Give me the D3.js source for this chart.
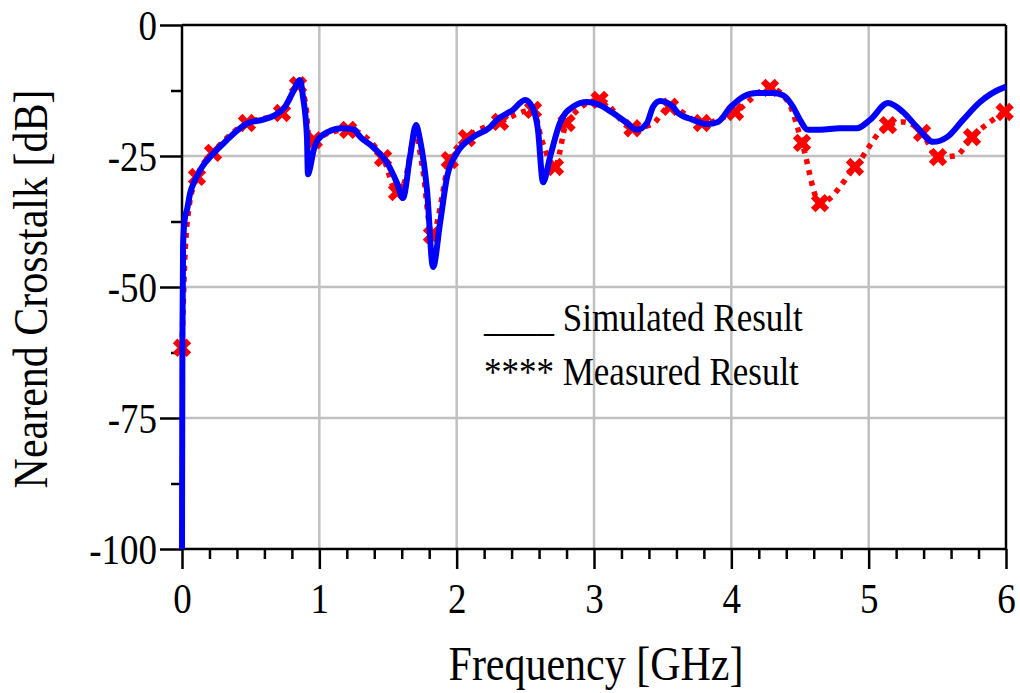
<!DOCTYPE html>
<html><head><meta charset="utf-8">
<script src="https://cdn.jsdelivr.net/npm/d3@7"></script>
<style>
html,body{margin:0;padding:0;background:#fff;}
svg{display:block;font-family:"Liberation Serif","Times New Roman",serif;}
</style></head>
<body>
<svg id="chart" width="1020" height="693"></svg>
<script>
// ---- Data ----
const xTicks = [0, 1, 2, 3, 4, 5, 6];
const yTicks = [0, -25, -50, -75, -100];
const xTickLabels = ["0", "1", "2", "3", "4", "5", "6"];
const yTickLabels = ["0", "-25", "-50", "-75", "-100"];

// Simulated result (GHz, dB)
const simFreq = [0, 0.003, 0.008, 0.02, 0.036, 0.06, 0.095, 0.146, 0.218, 0.313, 0.408, 0.48, 0.583, 0.677, 0.75, 0.808, 0.859, 0.881, 0.91, 0.917, 0.935, 0.954, 0.99, 1.063, 1.165, 1.26,
  1.274, 1.391, 1.493, 1.566, 1.609, 1.66, 1.704, 1.733, 1.784, 1.828, 1.879, 1.93, 2.002, 2.119, 2.243,
  2.294, 2.41, 2.498, 2.549, 2.592, 2.629, 2.68, 2.752, 2.847, 2.949, 3.044, 3.138, 3.24, 3.313, 3.386, 3.43, 3.481, 3.575,
  3.604, 3.721, 3.823, 3.903, 3.99, 4.085, 4.187, 4.303, 4.376, 4.449, 4.5, 4.558, 4.646, 4.79,
  4.915, 5.01, 5.141, 5.25, 5.352, 5.469, 5.571, 5.687, 5.811, 5.978, 6.0];
const simDb = [-100, -60, -42, -37, -35.3, -32, -29.6, -27.1, -24.8, -22.3, -20.0, -18.7, -18.1, -17.2, -15.6, -12.8, -10.5, -13.7, -21.4, -28.5, -27, -24.4, -21.9, -20.4, -19.7, -20.0,
  -20.6, -23.3, -26.3, -30.2, -33.0, -25.2, -19.1, -21.9, -31.5, -46.2, -37.8, -29.0, -24.4, -21.4, -19.5,
  -18.1, -16.2, -14.3, -15.6, -20.0, -30.0, -25.2, -18.7, -15.6, -14.7, -15.3, -16.8, -18.7, -20.0, -18.7, -15.6, -14.5, -15.6,
  -16.6, -18.1, -18.9, -18.5, -15.8, -13.7, -13.0, -13.0, -13.4, -15.6, -18.1, -20.0, -20.0, -19.7,
  -19.7, -18.1, -14.9, -16.6, -19.5, -22.3, -21.4, -18.1, -14.7, -12.0, -11.8];

// Measured result: dotted curve points
const measFreq = [0, 0.02, 0.05, 0.109, 0.226, 0.35, 0.473, 0.6, 0.728, 0.845, 0.9, 0.93, 0.96, 1.21, 1.464, 1.566, 1.62, 1.7, 1.75, 1.82, 1.95, 2.075, 2.316, 2.556, 2.62, 2.716, 2.8, 3.04, 3.28, 3.42, 3.553, 3.786, 4.027, 4.282, 4.42, 4.515, 4.646, 4.9, 5.141, 5.25, 5.389, 5.505, 5.63, 5.753, 5.99];
const measDb = [-61.6, -45, -35, -29, -24.4, -21, -18.7, -17.8, -16.8, -11.5, -15, -23, -22, -20.0, -25.4, -31.9, -30, -21, -27, -40.1, -25.8, -21.6, -18.5, -16.2, -22, -27.1, -18.7, -14.3, -19.7, -19, -15.6, -18.7, -16.6, -12.0, -15, -22.5, -34.0, -27.1, -19.1, -18.5, -20.6, -25.2, -25, -21.4, -16.6];
// Measured sample markers
const markFreq = [0, 0.109, 0.226, 0.473, 0.728, 0.845, 0.96, 1.21, 1.464, 1.566, 1.82, 1.95, 2.075, 2.316, 2.556, 2.716, 2.8, 3.04, 3.28, 3.553, 3.786, 4.027, 4.282, 4.515, 4.646, 4.9, 5.141, 5.389, 5.505, 5.753, 5.99];
const markDb = [-61.6, -29, -24.4, -18.7, -16.8, -11.5, -22, -20.0, -25.4, -31.9, -40.1, -25.8, -21.6, -18.5, -16.2, -27.1, -18.7, -14.3, -19.7, -15.6, -18.7, -16.6, -12.0, -22.5, -34.0, -27.1, -19.1, -20.6, -25.2, -21.4, -16.6];

const legendLabels = ["____ Simulated Result", "**** Measured Result"];
const xTitle = "Frequency [GHz]";
const yTitle = "Nearend Crosstalk [dB]";

// ---- Chart ----
const svg = d3.select("#chart");
const L = 182, R = 1006, T = 25, B = 549;
const SY = 1.16; // vertical text stretch
const x = d3.scaleLinear().domain([0, 6]).range([L, R]);
const y = d3.scaleLinear().domain([-100, 0]).range([B, T]);

// grid
const grid = svg.append("g").attr("stroke", "#c0c0c0").attr("stroke-width", 2.5);
grid.selectAll("line.gx").data([1, 2, 3, 4, 5]).join("line")
  .attr("x1", d => x(d)).attr("x2", d => x(d)).attr("y1", T).attr("y2", B);
grid.selectAll("line.gy").data([-25, -50, -75]).join("line")
  .attr("x1", L).attr("x2", R).attr("y1", d => y(d)).attr("y2", d => y(d));

// x axis
const xAxis = d3.axisBottom(x).tickValues(xTicks).tickSize(20).tickFormat((d, i) => xTickLabels[i]);
const gx = svg.append("g").attr("transform", `translate(0,${B})`).call(xAxis);
const xMinor = d3.range(0, 6.0001, 0.2).filter(v => Math.abs(v - Math.round(v)) > 1e-6);
const gxm = svg.append("g").attr("transform", `translate(0,${B})`)
  .call(d3.axisBottom(x).tickValues(xMinor).tickSize(10).tickFormat(""));

// y axis
const yAxis = d3.axisLeft(y).tickValues(yTicks).tickSize(22).tickFormat((d, i) => yTickLabels[i]).tickPadding(3);
const gy = svg.append("g").attr("transform", `translate(${L},0)`).call(yAxis);
const gym = svg.append("g").attr("transform", `translate(${L},0)`)
  .call(d3.axisLeft(y).tickValues([-12.5, -37.5, -62.5, -87.5]).tickSize(11).tickFormat(""));

[gx, gxm, gy, gym].forEach(g => {
  g.select(".domain").remove();
  g.attr("font-family", null);
  g.selectAll("line").attr("stroke", "#000").attr("stroke-width", 2.5);
  g.selectAll("text").attr("fill", "#000").attr("font-size", 37)
    .attr("font-family", "'Liberation Serif','Times New Roman',serif");
});
gx.selectAll("text").attr("y", null).attr("dy", null)
  .attr("transform", `translate(0,${613 - B}) scale(1,${SY})`);
gy.selectAll("text").attr("dy", null)
  .attr("transform", `translate(0,14) scale(1,${SY})`);

// frame
const frame = svg.append("g").attr("stroke", "#000").attr("stroke-width", 2.5).attr("fill", "none");
frame.append("line").attr("x1", L).attr("x2", R).attr("y1", T).attr("y2", T);
frame.append("line").attr("x1", L).attr("x2", R).attr("y1", B).attr("y2", B);
frame.append("line").attr("x1", L).attr("x2", L).attr("y1", T).attr("y2", B);
frame.append("line").attr("x1", R).attr("x2", R).attr("y1", T).attr("y2", B);

// measured dotted line
const measData = measFreq.map((f, i) => [f, measDb[i]]);
const lineM = d3.line().x(d => x(d[0])).y(d => y(d[1])).curve(d3.curveMonotoneX);
svg.append("path").datum(measData).attr("d", lineM)
  .attr("fill", "none").attr("stroke", "#ff0000").attr("stroke-width", 5.5)
  .attr("stroke-dasharray", "5,6");

// markers
const markData = markFreq.map((f, i) => [f, markDb[i]]);
svg.append("g").selectAll("path").data(markData).join("path")
  .attr("d", d3.symbol().type(d3.symbolCross).size(210))
  .attr("transform", d => `translate(${x(d[0])},${y(d[1])}) rotate(45)`)
  .attr("fill", "#ff0000");

// simulated line
const simData = simFreq.map((f, i) => [f, simDb[i]]);
const lineS = d3.line().x(d => x(d[0])).y(d => y(d[1])).curve(d3.curveMonotoneX);
svg.append("path").datum(simData).attr("d", lineS)
  .attr("fill", "none").attr("stroke", "#0000ff").attr("stroke-width", 6)
  .attr("stroke-linejoin", "round");

// legend
svg.append("g").selectAll("text").data(legendLabels).join("text")
  .attr("transform", (d, i) => `translate(484,${331 + i * 54}) scale(1,${SY})`)
  .attr("font-size", 35).attr("fill", "#000")
  .text(d => d);

// titles
svg.append("text").attr("transform", `translate(${(L + R) / 2 + 2},680) scale(1,${SY})`).attr("text-anchor", "middle")
  .attr("font-size", 42).attr("fill", "#000").text(xTitle);
svg.append("text").attr("transform", `translate(47,289) rotate(-90) scale(1,${SY})`).attr("text-anchor", "middle")
  .attr("font-size", 42).attr("fill", "#000").text(yTitle);
</script>
</body></html>
